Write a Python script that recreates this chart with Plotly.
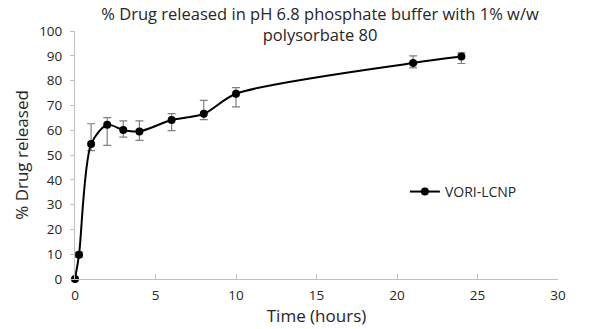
import plotly.graph_objects as go

time_h = [0, 0.25, 1, 2, 3, 4, 6, 8, 10, 21, 24]
released = [0, 9.8, 54.4, 62.2, 60.1, 59.5, 64.1, 66.6, 74.7, 87.1, 89.7]
err_plus = [0, 1.0, 8.2, 2.9, 3.7, 4.3, 2.6, 5.4, 2.5, 2.9, 1.5]
err_minus = [0, 1.0, 2.6, 8.3, 2.9, 3.6, 4.3, 2.3, 5.3, 2.0, 2.8]
series_name = "VORI-LCNP"
title_text = "% Drug released in pH 6.8 phosphate buffer with 1% w/w<br>polysorbate 80"
x_title = "Time (hours)"
y_title = "% Drug released"
x_ticks = [0, 5, 10, 15, 20, 25, 30]
y_ticks = [0, 10, 20, 30, 40, 50, 60, 70, 80, 90, 100]

FONT = "Open Sans"
TXT = "#262626"
fig = go.Figure()
fig.add_trace(go.Scatter(
    x=time_h, y=released, name=series_name, mode="lines+markers",
    line=dict(color="black", width=2, shape="spline", smoothing=0.8),
    marker=dict(color="black", size=8, symbol="circle"),
    error_y=dict(type="data", symmetric=False, array=err_plus, arrayminus=err_minus,
                 color="#7f7f7f", thickness=1.2, width=4),
    cliponaxis=False,
))

fig.update_layout(
    width=596, height=329,
    margin=dict(l=75, r=38, t=31, b=50),
    paper_bgcolor="white", plot_bgcolor="white",
    font=dict(family=FONT, color=TXT, size=13),
    title=dict(text=title_text, x=0.537, xanchor="center", y=0.94, yanchor="top",
               font=dict(family=FONT, size=16.5, color=TXT)),
    showlegend=True,
    legend=dict(x=0.683, y=0.351, xanchor="left", yanchor="middle",
                bgcolor="rgba(0,0,0,0)", font=dict(family=FONT, size=14, color=TXT)),
    xaxis=dict(range=[0, 30], tickvals=x_ticks, ticktext=[str(v) for v in x_ticks],
               showgrid=False, zeroline=False, showline=True, linecolor="#bfbfbf", linewidth=1,
               ticks="inside", ticklen=5, tickcolor="#bfbfbf", ticklabelstandoff=4,
               tickfont=dict(size=13.5), automargin=False,
               title=dict(text=x_title, font=dict(family=FONT, size=17, color=TXT), standoff=4)),
    yaxis=dict(range=[0, 100], tickvals=y_ticks, ticktext=[str(v) for v in y_ticks],
               showgrid=False, zeroline=False, showline=True, linecolor="#bfbfbf", linewidth=1,
               ticks="outside", ticklen=4, tickcolor="#bfbfbf", ticklabelstandoff=5,
               tickfont=dict(size=13.5), automargin=False,
               title=dict(text=y_title, font=dict(family=FONT, size=17, color=TXT), standoff=6)),
)
fig.write_html("out.html")
